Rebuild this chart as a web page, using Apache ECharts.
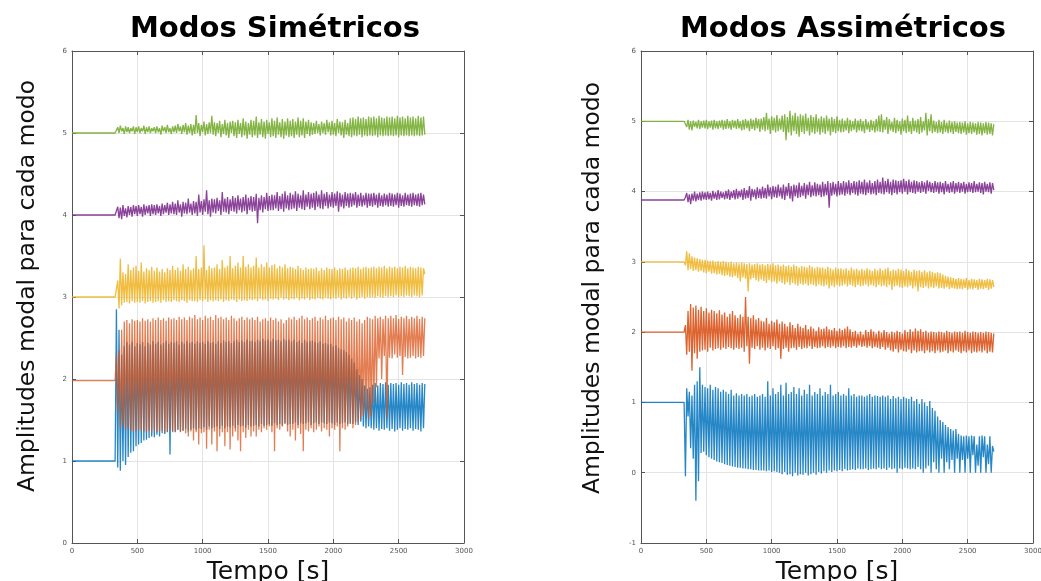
<!DOCTYPE html>
<html>
<head>
<meta charset="utf-8">
<script src="https://cdn.jsdelivr.net/npm/echarts@6/dist/echarts.min.js"></script>
<style>html,body{margin:0;padding:0;background:#fff}#c{width:1041px;height:581px}</style>
</head>
<body>
<div id="c"></div>
<script>
// ---- data ----
const titles = ["Modos Simétricos", "Modos Assimétricos"];
const yLabel = "Amplitudes modal para cada modo";
const xLabel = "Tempo [s]";
const flatEnd = 330;   // time [s] where excitation starts
const t0 = 340;        // time of first sampled value after start
const dt = 10;         // sampling step of the value arrays [s]

// Simétricos: level before start + sampled values
const symPre = { blue: 1.0, orange: 1.98, yellow: 3.0, purple: 4.0, green: 5.0 };
const symGreen = [5.01,5.07,5.00,5.09,5.02,5.06,4.99,5.08,5.01,5.07,5.00,5.06,5.02,5.08,4.99,
5.07,5.01,5.08,5.00,5.06,5.02,5.09,4.99,5.07,5.01,5.08,5.00,5.06,5.02,5.07,
5.00,5.08,5.01,5.06,4.98,5.09,5.02,5.07,5.00,5.10,5.01,5.06,4.99,5.08,5.01,
5.09,5.00,5.11,5.02,5.08,4.99,5.10,5.01,5.12,4.98,5.09,5.00,5.11,4.97,5.10,
4.99,5.22,5.00,5.12,4.96,5.10,5.01,5.14,4.97,5.11,4.99,5.13,5.00,5.21,4.98,
5.13,4.96,5.12,5.00,5.15,4.95,5.11,4.99,5.16,4.97,5.12,4.94,5.14,5.00,5.15,
4.96,5.13,4.94,5.16,4.99,5.12,4.95,5.18,4.97,5.14,4.93,5.12,4.98,5.16,4.95,
5.15,4.97,5.20,4.94,5.13,4.98,5.17,4.95,5.14,4.93,5.16,4.99,5.13,4.95,5.18,
4.96,5.15,4.94,5.19,4.98,5.13,4.95,5.17,4.93,5.14,4.97,5.18,4.95,5.15,4.96,
5.17,4.94,5.14,4.98,5.19,4.95,5.15,4.97,5.18,4.94,5.14,4.99,5.16,4.96,5.13,
4.98,5.12,4.99,5.15,5.00,5.11,4.97,5.14,5.00,5.12,4.98,5.16,5.01,5.13,4.97,
5.15,4.98,5.12,4.96,5.17,5.00,5.14,4.97,5.13,4.94,5.16,4.98,5.12,4.96,5.18,
4.95,5.19,4.97,5.17,4.96,5.20,4.98,5.18,4.95,5.19,4.97,5.17,4.96,5.20,4.97,
5.19,4.96,5.20,4.97,5.18,4.95,5.21,4.97,5.19,4.96,5.18,4.97,5.20,4.96,5.19,
4.97,5.20,4.96,5.18,4.97,5.21,4.95,5.19,4.97,5.20,4.96,5.18,4.97,5.21,4.96,
5.19,4.97,5.20,4.96,5.18,4.97,5.21,4.96,5.19,4.97,5.20,4.98];
const symPurple = [4.02,4.10,3.96,4.09,3.95,4.12,3.99,4.08,3.97,4.11,4.00,4.10,3.98,4.12,4.01,
4.11,3.99,4.12,4.01,4.10,3.98,4.13,4.00,4.11,4.02,4.12,3.99,4.13,4.01,4.12,
4.00,4.13,4.02,4.11,3.99,4.14,4.01,4.12,4.03,4.15,4.00,4.13,4.02,4.16,4.01,
4.14,4.00,4.18,4.03,4.13,3.98,4.16,4.02,4.15,4.01,4.20,4.03,4.14,4.00,4.17,
4.02,4.16,3.99,4.25,4.03,4.17,4.00,4.19,4.04,4.30,4.01,4.18,3.98,4.20,4.03,
4.19,4.02,4.21,4.05,4.18,4.00,4.28,4.04,4.20,4.03,4.22,4.01,4.19,4.05,4.23,
4.04,4.21,4.02,4.24,4.06,4.20,4.03,4.22,4.05,4.25,4.01,4.21,4.06,4.23,4.04,
4.22,4.05,4.26,3.90,4.21,4.06,4.24,4.03,4.22,4.07,4.27,4.05,4.23,4.06,4.25,
4.06,4.24,4.08,4.28,4.05,4.23,4.07,4.26,4.04,4.29,4.08,4.24,4.06,4.27,4.07,
4.25,4.08,4.29,4.05,4.26,4.09,4.24,4.07,4.30,4.06,4.25,4.10,4.28,4.07,4.26,
4.09,4.27,4.06,4.29,4.10,4.25,4.08,4.30,4.07,4.26,4.11,4.28,4.08,4.25,4.10,
4.28,4.09,4.26,4.11,4.29,4.04,4.27,4.10,4.25,4.08,4.28,4.11,4.26,4.09,4.27,
4.10,4.26,4.12,4.28,4.09,4.25,4.11,4.27,4.10,4.24,4.12,4.27,4.09,4.26,4.11,
4.26,4.10,4.27,4.12,4.25,4.09,4.27,4.11,4.24,4.10,4.26,4.12,4.25,4.10,4.27,
4.11,4.26,4.10,4.25,4.12,4.27,4.09,4.26,4.11,4.24,4.10,4.27,4.12,4.25,4.11,
4.26,4.10,4.27,4.12,4.25,4.11,4.26,4.10,4.27,4.12,4.25,4.13];
const symYellow = [3.02,3.20,2.86,3.47,2.90,3.30,2.93,3.28,2.94,3.40,2.92,3.33,2.95,3.36,2.93,
3.38,2.94,3.32,2.93,3.42,2.95,3.31,2.92,3.35,2.94,3.33,2.95,3.37,2.93,3.32,
2.94,3.36,2.95,3.31,2.93,3.34,2.96,3.30,2.94,3.35,2.95,3.33,2.94,3.38,2.96,
3.33,2.95,3.36,2.94,3.32,2.96,3.40,2.95,3.34,2.93,3.37,2.96,3.33,2.95,3.35,
2.95,3.50,2.94,3.34,2.96,3.36,2.95,3.63,2.97,3.33,2.94,3.38,2.96,3.35,2.95,
3.36,2.96,3.40,2.95,3.34,2.97,3.45,2.94,3.36,2.96,3.38,2.95,3.50,2.97,3.35,
2.96,3.38,2.94,3.42,2.97,3.36,2.95,3.50,2.96,3.37,2.95,3.40,2.97,3.36,2.96,
3.38,2.97,3.48,2.95,3.36,2.98,3.40,2.96,3.37,2.97,3.42,2.95,3.36,2.98,3.39,
2.97,3.40,2.98,3.35,2.96,3.38,2.99,3.36,2.97,3.40,2.98,3.35,2.96,3.37,2.98,
3.36,2.97,3.34,2.99,3.38,2.96,3.35,2.98,3.33,2.97,3.36,2.99,3.34,2.96,3.35,
2.98,3.34,2.97,3.36,2.99,3.32,2.98,3.35,2.97,3.33,2.99,3.36,2.98,3.34,2.97,
3.34,2.99,3.36,2.98,3.33,3.00,3.35,2.97,3.34,2.99,3.36,2.98,3.33,3.00,3.35,
2.98,3.36,3.00,3.35,2.97,3.37,2.99,3.34,3.00,3.36,2.98,3.37,3.00,3.35,2.99,
3.36,3.00,3.37,2.99,3.35,3.01,3.37,3.00,3.36,2.99,3.38,3.01,3.35,3.00,3.37,
3.01,3.36,3.00,3.37,3.02,3.35,3.00,3.37,3.01,3.36,3.00,3.38,3.02,3.35,3.01,
3.37,3.00,3.36,3.02,3.35,3.01,3.37,3.00,3.36,3.02,3.35,3.28];
const symOrange = [2.30,1.60,2.35,1.40,2.60,1.45,2.70,1.38,2.72,1.40,2.68,1.37,2.73,1.36,2.71,
1.36,2.72,1.38,2.70,1.37,2.74,1.36,2.71,1.35,2.73,1.37,2.70,1.34,2.74,1.38,
2.72,1.35,2.75,1.36,2.72,1.37,2.74,1.34,2.71,1.36,2.75,1.38,2.73,1.35,2.74,
1.36,2.72,1.38,2.76,1.35,2.73,1.37,2.75,1.34,2.72,1.30,2.76,1.36,2.74,1.25,
2.78,1.35,2.73,1.20,2.75,1.34,2.72,1.35,2.77,1.15,2.74,1.38,2.76,1.20,2.72,
1.36,2.78,1.12,2.74,1.30,2.76,1.35,2.73,1.18,2.75,1.35,2.72,1.14,2.77,1.30,
2.74,1.36,2.71,1.25,2.74,1.12,2.76,1.35,2.72,1.28,2.75,1.38,2.73,1.30,2.75,
1.36,2.72,1.30,2.76,1.38,2.70,1.35,2.73,1.40,2.74,1.38,2.71,1.42,2.75,1.35,
2.72,1.12,2.74,1.40,2.70,1.38,2.73,1.42,2.68,1.45,2.72,1.36,2.75,1.30,2.73,
1.38,2.76,1.25,2.72,1.40,2.74,1.33,2.77,1.12,2.73,1.38,2.75,1.36,2.72,1.40,
2.74,1.35,2.76,1.38,2.71,1.42,2.75,1.36,2.73,1.40,2.77,1.38,2.72,1.30,2.74,
1.40,2.75,1.38,2.72,1.42,2.76,1.12,2.73,1.40,2.75,1.38,2.70,1.42,2.74,1.45,
2.72,1.40,2.75,1.44,2.70,1.48,2.73,1.50,2.68,1.55,2.72,1.60,2.76,1.50,2.74,
1.55,2.73,1.70,2.77,1.90,2.74,2.25,2.76,2.00,2.73,2.28,2.77,1.52,2.74,2.26,
2.77,2.25,2.74,2.30,2.78,2.26,2.73,2.28,2.76,2.05,2.74,2.27,2.77,2.25,2.73,
2.26,2.76,2.28,2.74,2.25,2.77,2.27,2.73,2.26,2.76,2.28,2.74];
const symBlue = [2.85,0.92,2.60,0.88,2.30,1.00,2.40,0.95,2.45,1.05,2.42,1.10,2.45,1.12,2.40,
1.18,2.44,1.20,2.42,1.22,2.45,1.25,2.40,1.26,2.44,1.28,2.42,1.30,2.46,1.29,
2.43,1.32,2.45,1.30,2.42,1.34,2.44,1.33,2.46,1.35,2.43,1.08,2.45,1.36,2.44,
1.35,2.46,1.38,2.42,1.36,2.45,1.37,2.43,1.39,2.46,1.36,2.44,1.38,2.45,1.40,
2.43,1.38,2.46,1.40,2.44,1.39,2.45,1.41,2.43,1.38,2.46,1.42,2.44,1.40,2.45,
1.41,2.43,1.42,2.46,1.39,2.44,1.43,2.47,1.40,2.45,1.42,2.46,1.41,2.44,1.43,
2.46,1.40,2.48,1.44,2.45,1.42,2.47,1.43,2.45,1.41,2.48,1.44,2.46,1.42,2.47,
1.43,2.45,1.44,2.48,1.42,2.46,1.45,2.49,1.43,2.47,1.44,2.48,1.45,2.46,1.43,
2.49,1.46,2.47,1.44,2.48,1.45,2.46,1.43,2.49,1.46,2.47,1.44,2.48,1.45,2.46,
1.45,2.48,1.47,2.45,1.44,2.47,1.46,2.44,1.45,2.48,1.46,2.45,1.47,2.46,1.44,
2.47,1.46,2.45,1.47,2.44,1.45,2.46,1.47,2.43,1.46,2.44,1.45,2.42,1.47,2.43,
1.46,2.40,1.44,2.41,1.47,2.38,1.45,2.36,1.46,2.35,1.47,2.33,1.45,2.30,1.46,
2.25,1.45,2.20,1.47,2.12,1.44,2.05,1.48,2.00,1.42,1.92,1.40,1.88,1.42,1.90,
1.40,1.93,1.38,1.95,1.40,1.92,1.37,1.95,1.39,1.94,1.38,1.96,1.40,1.93,1.37,
1.95,1.39,1.94,1.36,1.95,1.38,1.93,1.40,1.96,1.37,1.94,1.39,1.95,1.38,1.93,
1.40,1.96,1.37,1.94,1.39,1.95,1.38,1.93,1.36,1.95,1.40,1.94];

// Assimétricos
const asyPre = { blue: 1.0, orange: 2.0, yellow: 3.0, purple: 3.88, green: 5.0 };
const asyGreen = [4.98,4.92,5.02,4.88,5.00,4.87,5.01,4.92,4.99,4.90,5.02,4.89,5.00,4.91,5.01,
4.90,5.02,4.89,5.00,4.91,5.01,4.88,5.02,4.90,5.00,4.89,5.01,4.91,5.02,4.88,
5.01,4.89,5.03,4.90,5.00,4.88,5.02,4.91,5.01,4.89,5.03,4.90,5.00,4.87,5.02,
4.88,5.03,4.90,5.01,4.86,5.04,4.89,5.02,4.87,5.05,4.90,5.03,4.85,5.04,4.88,
5.06,4.86,5.12,4.88,5.04,4.82,5.07,4.87,5.05,4.84,5.09,4.86,5.04,4.88,5.08,
4.85,5.10,4.73,5.06,4.84,5.15,4.80,5.08,4.86,5.12,4.82,5.07,4.78,5.10,4.85,
5.08,4.82,5.11,4.86,5.05,4.80,5.09,4.84,5.06,4.82,5.10,4.85,5.04,4.81,5.07,
4.84,5.05,4.82,5.08,4.86,5.04,4.80,5.06,4.85,5.03,4.83,5.07,4.86,5.02,4.84,
5.04,4.85,5.01,4.87,5.05,4.83,5.02,4.86,5.00,4.88,5.04,4.84,5.01,4.87,5.03,
4.86,5.00,4.83,5.03,4.88,4.99,4.85,5.02,4.87,5.00,4.84,5.03,4.86,5.08,4.85,
5.10,4.84,5.02,4.88,5.06,4.82,5.03,4.87,4.99,4.85,5.05,4.83,5.02,4.86,5.00,
4.81,5.04,4.86,5.02,4.83,5.08,4.85,5.00,4.82,5.05,4.86,5.01,4.84,5.03,4.82,
5.06,4.84,5.00,4.87,5.12,4.80,5.03,4.86,5.10,4.83,5.01,4.85,4.99,4.83,5.02,
4.84,4.99,4.82,5.02,4.85,4.98,4.83,5.01,4.84,4.99,4.82,5.00,4.85,4.98,4.83,
4.99,4.82,4.98,4.84,5.00,4.81,4.97,4.83,4.99,4.82,4.98,4.84,4.97,4.81,4.99,
4.82,4.98,4.80,4.97,4.83,4.99,4.81,4.98,4.82,4.97,4.80,4.96];
const asyPurple = [3.92,3.98,3.85,3.96,3.82,3.97,3.87,4.00,3.86,3.97,3.88,3.99,3.87,4.00,3.89,
3.99,3.88,4.00,3.89,3.98,3.87,4.01,3.90,3.99,3.88,4.02,3.89,4.00,3.91,3.99,
3.89,4.01,3.90,4.03,3.88,4.00,3.91,4.02,3.89,4.04,3.90,4.01,3.92,4.03,3.88,
4.05,3.90,4.02,3.91,4.08,3.87,4.04,3.92,4.03,3.89,4.06,3.91,4.04,3.90,4.07,
3.91,4.05,3.90,4.10,3.93,4.06,3.89,4.08,3.92,4.07,3.91,4.10,3.93,4.06,3.90,
4.10,3.88,4.07,3.94,4.12,3.90,4.08,3.86,4.10,3.93,4.09,3.91,4.13,3.92,4.08,
3.94,4.12,3.90,4.10,3.95,4.14,3.92,4.09,3.94,4.13,3.93,4.11,3.95,4.10,3.92,
4.14,3.93,4.11,3.95,4.15,3.77,4.12,3.94,4.14,3.96,4.11,3.93,4.15,3.95,4.12,
3.96,4.15,3.94,4.13,3.97,4.16,3.95,4.12,3.98,4.15,3.96,4.14,3.94,4.16,3.97,
4.14,3.96,4.17,3.95,4.13,3.98,4.16,3.96,4.12,3.97,4.15,3.95,4.17,3.98,4.14,
3.97,4.20,3.96,4.15,3.99,4.18,3.97,4.14,3.95,4.17,3.98,4.16,3.96,4.15,3.99,
4.16,3.97,4.18,4.00,4.15,3.96,4.17,3.99,4.14,3.98,4.16,3.97,4.15,4.00,4.13,
3.98,4.15,4.00,4.13,3.97,4.16,4.01,4.14,3.99,4.12,3.98,4.15,4.00,4.13,3.97,
4.14,3.99,4.12,3.96,4.15,4.00,4.11,3.98,4.13,3.99,4.15,3.97,4.12,4.00,4.14,
3.98,4.12,4.00,4.14,3.97,4.11,3.99,4.13,4.00,4.12,3.98,4.15,3.99,4.11,4.00,
4.13,3.98,4.12,3.96,4.14,4.00,4.11,3.99,4.13,3.97,4.12,4.02];
const asyYellow = [2.95,3.15,2.88,3.12,2.90,3.08,2.87,3.06,2.88,3.05,2.86,3.04,2.87,3.03,2.85,
3.03,2.84,3.02,2.86,3.01,2.83,3.02,2.84,3.00,2.82,3.01,2.83,3.00,2.81,3.01,
2.80,3.00,2.81,2.99,2.79,3.00,2.78,2.98,2.80,2.99,2.77,2.98,2.72,2.99,2.78,
2.98,2.76,2.97,2.58,2.98,2.75,2.96,2.77,2.97,2.74,2.98,2.72,2.96,2.75,2.97,
2.73,2.95,2.70,2.97,2.74,2.96,2.71,2.98,2.72,2.95,2.69,2.96,2.72,2.94,2.70,
2.96,2.68,2.94,2.71,2.95,2.67,2.93,2.70,2.96,2.68,2.94,2.66,2.92,2.69,2.94,
2.67,2.93,2.69,2.92,2.66,2.95,2.68,2.93,2.67,2.91,2.65,2.93,2.68,2.92,2.66,
2.92,2.65,2.90,2.67,2.93,2.62,2.91,2.66,2.89,2.64,2.92,2.67,2.90,2.65,2.91,
2.66,2.89,2.68,2.91,2.65,2.88,2.67,2.92,2.66,2.89,2.64,2.90,2.67,2.88,2.65,
2.90,2.66,2.88,2.68,2.91,2.65,2.89,2.67,2.87,2.66,2.90,2.64,2.88,2.67,2.91,
2.65,2.88,2.66,2.90,2.64,2.92,2.67,2.87,2.60,2.89,2.65,2.88,2.66,2.90,2.64,
2.89,2.63,2.87,2.65,2.90,2.64,2.88,2.66,2.86,2.62,2.89,2.65,2.87,2.58,2.88,
2.64,2.86,2.63,2.88,2.65,2.85,2.62,2.87,2.64,2.86,2.63,2.84,2.65,2.85,2.62,
2.84,2.63,2.82,2.62,2.80,2.64,2.79,2.61,2.78,2.63,2.77,2.62,2.76,2.61,2.77,
2.62,2.76,2.61,2.75,2.63,2.77,2.60,2.74,2.62,2.76,2.61,2.75,2.63,2.74,2.60,
2.76,2.62,2.75,2.61,2.74,2.63,2.76,2.60,2.75,2.62,2.74,2.64];
const asyOrange = [2.10,1.68,2.30,1.72,2.40,1.45,2.35,1.70,2.38,1.62,2.32,1.72,2.36,1.74,2.30,
1.75,2.34,1.72,2.28,1.78,2.32,1.74,2.30,1.76,2.27,1.77,2.31,1.75,2.25,1.78,
2.28,1.76,2.22,1.79,2.26,1.77,2.30,1.75,2.24,1.78,2.20,1.76,2.25,1.78,2.22,
1.72,2.50,1.80,2.22,1.55,2.20,1.78,2.24,1.76,2.18,1.80,2.20,1.75,2.16,1.78,
2.15,1.74,2.20,1.78,2.12,1.76,2.16,1.80,2.14,1.75,2.18,1.77,2.12,1.62,2.15,
1.76,2.12,1.78,2.08,1.72,2.14,1.77,2.10,1.78,2.06,1.75,2.12,1.79,2.08,1.76,
2.06,1.78,2.10,1.77,2.04,1.80,2.08,1.76,2.05,1.79,2.02,1.77,2.07,1.78,2.04,
1.80,2.05,1.77,2.08,1.79,2.04,1.78,2.03,1.80,2.06,1.77,2.02,1.79,2.05,1.78,
2.03,1.80,2.05,1.77,2.08,1.79,2.04,1.78,2.00,1.80,2.02,1.78,1.98,1.81,2.01,
1.79,1.97,1.80,2.03,1.78,2.00,1.80,2.04,1.77,2.01,1.79,1.98,1.78,2.02,1.76,
1.99,1.79,2.03,1.75,2.00,1.78,1.98,1.74,2.01,1.72,1.99,1.76,2.02,1.71,2.00,
1.75,1.98,1.73,2.03,1.72,2.00,1.75,2.04,1.70,2.01,1.74,2.05,1.71,2.02,1.73,
2.04,1.73,2.00,1.70,2.02,1.74,1.99,1.71,2.01,1.73,2.00,1.70,1.99,1.74,2.01,
1.71,2.00,1.72,1.99,1.74,2.02,1.70,2.00,1.73,1.99,1.71,2.01,1.74,2.00,1.72,
2.01,1.70,1.99,1.73,2.02,1.71,2.00,1.74,1.99,1.70,2.01,1.72,2.00,1.71,1.99,
1.73,2.00,1.71,1.99,1.74,2.01,1.70,2.00,1.72,1.99,1.71,1.98];
const asyBlue = [-0.05,1.20,0.80,1.15,0.35,1.10,0.20,1.25,-0.40,1.30,-0.12,1.50,0.28,1.25,0.30,
1.22,0.25,1.20,0.22,1.25,0.20,1.18,0.18,1.22,0.16,1.20,0.15,1.15,0.14,1.18,
0.12,1.15,0.11,1.12,0.10,1.18,0.09,1.10,0.08,1.13,0.07,1.10,0.07,1.12,0.06,
1.10,0.06,1.12,0.05,1.08,0.05,1.10,0.04,1.12,0.04,1.08,0.03,1.10,0.03,1.12,
0.03,1.08,0.02,1.30,0.03,1.10,0.01,1.20,0.02,1.12,0.01,1.15,0.00,1.25,-0.02,
1.10,0.01,1.28,-0.03,1.12,-0.02,1.15,-0.05,1.22,0.00,1.12,-0.04,1.20,-0.02,1.10,
-0.03,1.18,0.00,1.12,-0.04,1.25,-0.02,1.10,0.00,1.15,-0.03,1.12,0.01,1.20,-0.01,
1.10,0.02,1.15,0.00,1.12,0.03,1.25,0.01,1.10,0.03,1.12,0.02,1.15,0.04,1.10,
0.02,1.12,0.05,1.10,0.03,1.20,0.04,1.10,0.05,1.12,0.04,1.08,0.06,1.10,0.05,
1.10,0.05,1.08,0.06,1.10,0.04,1.12,0.05,1.08,0.06,1.10,0.05,1.09,0.07,1.08,
0.05,1.10,0.06,1.08,0.04,1.10,0.07,1.05,0.05,1.09,0.06,1.06,0.00,1.08,0.06,
1.05,0.05,1.08,0.07,1.06,0.06,1.05,0.05,1.08,0.06,1.02,0.05,1.05,0.08,0.98,
0.05,1.05,0.00,1.00,0.06,0.95,0.10,1.02,0.00,0.92,0.15,0.88,0.05,0.80,0.00,
0.75,0.20,0.72,0.00,0.68,0.15,0.65,0.05,0.62,0.18,0.60,0.00,0.62,0.20,0.55,
0.00,0.53,0.18,0.52,0.00,0.53,0.20,0.52,0.00,0.53,0.25,0.52,0.00,0.40,0.10,
0.52,0.00,0.53,0.22,0.52,0.00,0.40,0.12,0.52,0.00,0.38,0.30];

const colors = { blue: '#0072BD', orange: '#D95319', yellow: '#EDB120', purple: '#7E2F8E', green: '#77AC30' };

// ---- chart ----
function build(pre, vals) {
  return [[0, pre], [flatEnd, pre]].concat(vals.map((v, i) => [t0 + dt * i, v]));
}
const grids = [
  { left: 72, top: 51, width: 392, height: 492, outerBoundsMode: 'none', containLabel: false },
  { left: 641, top: 51, width: 392, height: 492, outerBoundsMode: 'none', containLabel: false }
];
const axisLineStyle = { color: '#555', width: 1 };
const tickLabel = { fontSize: 7, color: '#555', fontFamily: 'DejaVu Sans', margin: 5,
  formatter: v => String(v) };
function xAx(g, top) {
  return {
    type: 'value', gridIndex: g, min: 0, max: 3000, interval: 500,
    position: top ? 'top' : 'bottom',
    name: top ? '' : xLabel, nameLocation: 'middle', nameGap: 9,
    nameTextStyle: { fontSize: 25, color: '#111', fontFamily: 'DejaVu Sans', verticalAlign: 'top' },
    axisLine: { show: true, onZero: false, lineStyle: axisLineStyle },
    axisTick: { show: true, inside: true, length: 4, lineStyle: axisLineStyle },
    axisLabel: top ? { show: false } : Object.assign({}, tickLabel),
    splitLine: { show: !top, lineStyle: { color: '#e4e4e4', width: 1 } }
  };
}
function yAx(g, right, min) {
  return {
    type: 'value', gridIndex: g, min: min, max: 6, interval: 1,
    position: right ? 'right' : 'left',
    axisLine: { show: true, onZero: false, lineStyle: axisLineStyle },
    axisTick: { show: true, inside: true, length: 4, lineStyle: axisLineStyle },
    axisLabel: right ? { show: false } : Object.assign({}, tickLabel),
    splitLine: { show: !right, lineStyle: { color: '#e4e4e4', width: 1 } }
  };
}
function ser(g, name, pre, vals, opacity) {
  return {
    type: 'line', name: name, xAxisIndex: g, yAxisIndex: g,
    data: build(pre, vals), showSymbol: false, symbol: 'none', animation: false,
    lineStyle: { color: colors[name], width: 1.3, opacity: opacity || 1 }
  };
}
function yName(x, y) {
  return { type: 'text', x: x, y: y, rotation: Math.PI / 2,
    style: { text: yLabel, fontSize: 23.5, fill: '#111', fontFamily: 'DejaVu Sans',
      align: 'center', verticalAlign: 'middle' } };
}
const chart = echarts.init(document.getElementById('c'), null, { renderer: 'canvas' });
chart.setOption({
  backgroundColor: '#fff',
  animation: false,
  title: [
    { text: titles[0], left: 270, top: 10, textAlign: 'center',
      textStyle: { fontSize: 29, fontWeight: 'bold', color: '#000', fontFamily: 'DejaVu Sans' } },
    { text: titles[1], left: 838, top: 10, textAlign: 'center',
      textStyle: { fontSize: 29, fontWeight: 'bold', color: '#000', fontFamily: 'DejaVu Sans' } }
  ],
  graphic: [yName(28, 286), yName(593, 288)],
  grid: grids,
  xAxis: [xAx(0, false), xAx(1, false), xAx(0, true), xAx(1, true)],
  yAxis: [yAx(0, false, 0), yAx(1, false, -1), yAx(0, true, 0), yAx(1, true, -1)],
  series: [
    ser(0, 'blue', symPre.blue, symBlue, 0.85),
    ser(0, 'orange', symPre.orange, symOrange, 0.75),
    ser(0, 'yellow', symPre.yellow, symYellow, 0.85),
    ser(0, 'purple', symPre.purple, symPurple, 0.9),
    ser(0, 'green', symPre.green, symGreen, 0.9),
    ser(1, 'blue', asyPre.blue, asyBlue, 0.85),
    ser(1, 'orange', asyPre.orange, asyOrange, 0.9),
    ser(1, 'yellow', asyPre.yellow, asyYellow, 0.85),
    ser(1, 'purple', asyPre.purple, asyPurple, 0.9),
    ser(1, 'green', asyPre.green, asyGreen, 0.9)
  ]
});
</script>
</body>
</html>
